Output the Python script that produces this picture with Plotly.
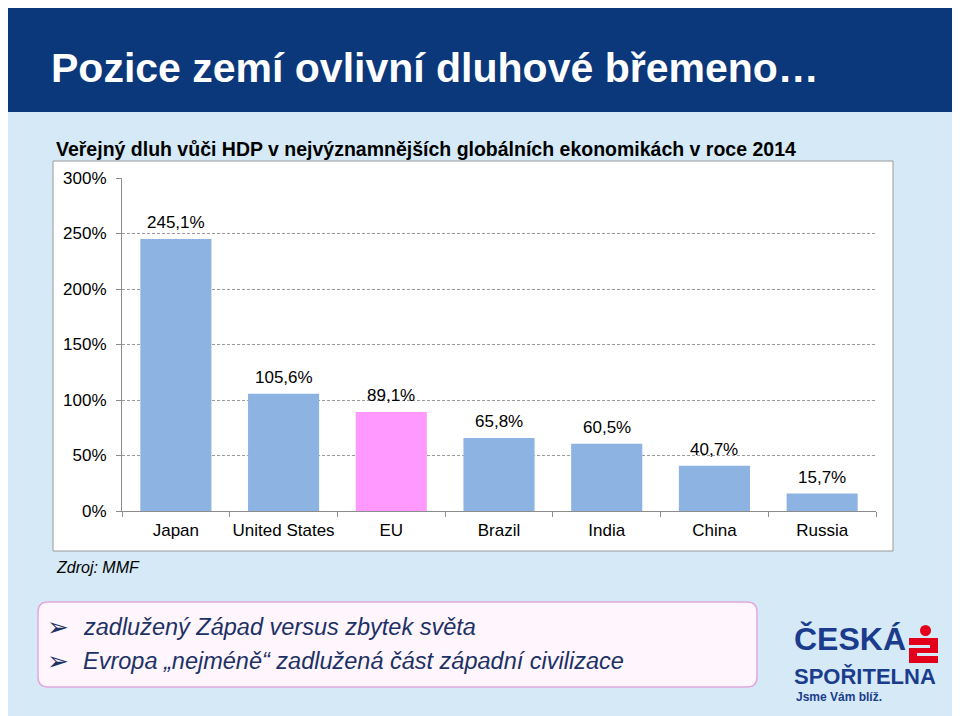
import plotly.graph_objects as go

# ---- data ----
categories = ["Japan", "United States", "EU", "Brazil", "India", "China", "Russia"]
debt_pct = [245.1, 105.6, 89.1, 65.8, 60.5, 40.7, 15.7]
y_ticks = [0, 50, 100, 150, 200, 250, 300]
y_tick_labels = ["0%", "50%", "100%", "150%", "200%", "250%", "300%"]
highlight = "EU"

# ---- geometry helpers (screen pixel -> paper) ----
SW, SH = 960, 716          # window
OFF = 8                    # page body margin
L, R, T, B = 122, 876, 178, 511


def px(x):
    return (x - L) / (R - L)


def py(y):
    return (B - y) / (B - T)


BLUE = "#8DB3E2"
PINK = "#FF99FF"
NAVY = "#0B377B"
TEXTNAVY = "#1C3264"
LOGO = "#1B3C8C"
BG = "#D5EAF6"
FONT = "Liberation Sans, Arial, sans-serif"

colors = [PINK if c == highlight else BLUE for c in categories]

fig = go.Figure()
fig.add_trace(go.Bar(
    x=categories, y=debt_pct, marker=dict(color=colors, line=dict(width=0)),
    hoverinfo="skip",
))

shapes = [
    dict(type="rect", xref="paper", yref="paper", x0=px(3), x1=px(957), y0=py(720), y1=py(112),
         fillcolor=BG, line=dict(width=0), layer="below"),
    dict(type="rect", xref="paper", yref="paper", x0=px(3), x1=px(957), y0=py(112), y1=py(2),
         fillcolor=NAVY, line=dict(width=0), layer="below"),
    dict(type="rect", xref="paper", yref="paper", x0=px(53), x1=px(893), y0=py(551), y1=py(161),
         fillcolor="white", line=dict(color="#9A9A9A", width=1), layer="below"),
]

bx0, bx1, by0, by1, r = 38, 757, 602, 687, 10
path = (f"M {px(bx0 + r)},{py(by0)} L {px(bx1 - r)},{py(by0)} "
        f"Q {px(bx1)},{py(by0)} {px(bx1)},{py(by0 + r)} L {px(bx1)},{py(by1 - r)} "
        f"Q {px(bx1)},{py(by1)} {px(bx1 - r)},{py(by1)} L {px(bx0 + r)},{py(by1)} "
        f"Q {px(bx0)},{py(by1)} {px(bx0)},{py(by1 - r)} L {px(bx0)},{py(by0 + r)} "
        f"Q {px(bx0)},{py(by0)} {px(bx0 + r)},{py(by0)} Z")
shapes.append(dict(type="path", xref="paper", yref="paper", path=path,
                   fillcolor="#FFF5FC", line=dict(color="#E3A9DC", width=1.5), layer="below"))

RED = "#E2001A"
shapes += [
    dict(type="circle", xref="paper", yref="paper", x0=px(920), x1=px(931), y0=py(636), y1=py(625),
         fillcolor=RED, line=dict(width=0), layer="above"),
    dict(type="rect", xref="paper", yref="paper", x0=px(909), x1=px(938), y0=py(663), y1=py(638),
         fillcolor=RED, line=dict(width=0), layer="above"),
    dict(type="rect", xref="paper", yref="paper", x0=px(909), x1=px(930), y0=py(648), y1=py(645),
         fillcolor=BG, line=dict(width=0), layer="above"),
    dict(type="rect", xref="paper", yref="paper", x0=px(917), x1=px(938), y0=py(656), y1=py(653),
         fillcolor=BG, line=dict(width=0), layer="above"),
]

annotations = [
    dict(text="Pozice zemí ovlivní dluhové břemeno…", x=px(49), y=py(68), xref="paper", yref="paper",
         xanchor="left", yanchor="middle", showarrow=False,
         font=dict(family=FONT, size=41, color="white", weight="bold")),
    dict(text="Veřejný dluh vůči HDP v nejvýznamnějších globálních ekonomikách v roce 2014",
         x=px(54), y=py(149), xref="paper", yref="paper", xanchor="left", yanchor="middle",
         showarrow=False, font=dict(family=FONT, size=19.5, color="black", weight="bold")),
    dict(text="Zdroj: MMF", x=px(54), y=py(567), xref="paper", yref="paper", xanchor="left",
         yanchor="middle", showarrow=False, font=dict(family=FONT, size=16, color="black", style="italic")),
]

bullets = ["zadlužený Západ versus zbytek světa",
           "Evropa „nejméně“ zadlužená část západní civilizace"]
for i, t in enumerate(bullets):
    yy = 627 + i * 34
    annotations.append(dict(text="➢", x=px(45), y=py(yy), xref="paper", yref="paper", xanchor="left",
                            yanchor="middle", showarrow=False,
                            font=dict(family="DejaVu Sans", size=26, color=TEXTNAVY)))
    annotations.append(dict(text=t, x=px(81), y=py(yy), xref="paper", yref="paper", xanchor="left",
                            yanchor="middle", showarrow=False,
                            font=dict(family=FONT, size=23.5, color=TEXTNAVY, style="italic")))

annotations += [
    dict(text="ČESKÁ", x=px(792), y=py(659), xref="paper", yref="paper", xanchor="left",
         yanchor="bottom", showarrow=False, font=dict(family=FONT, size=32, color=LOGO, weight="bold")),
    dict(text="SPOŘITELNA", x=px(792), y=py(691), xref="paper", yref="paper", xanchor="left",
         yanchor="bottom", showarrow=False, font=dict(family=FONT, size=22, color=LOGO, weight="bold")),
    dict(text="Jsme Vám blíž.", x=px(794), y=py(697), xref="paper", yref="paper", xanchor="left",
         yanchor="middle", showarrow=False, font=dict(family=FONT, size=12, color=LOGO, weight="bold")),
]

for c, v in zip(categories, debt_pct):
    annotations.append(dict(x=c, y=v, xref="x", yref="y", text=f"{v:.1f}".replace(".", ",") + "%",
                            showarrow=False, yanchor="bottom", yshift=5,
                            font=dict(family=FONT, size=17, color="black")))

fig.update_layout(
    width=SW - OFF, height=SH - OFF,
    margin=dict(l=L - OFF, r=SW - R, t=T - OFF, b=SH - B, pad=0),
    paper_bgcolor="white", plot_bgcolor="rgba(0,0,0,0)",
    showlegend=False, bargap=0.34,
    shapes=shapes, annotations=annotations,
    font=dict(family=FONT, size=17, color="black"),
)
fig.update_xaxes(
    showline=True, linecolor="#8C8C8C", linewidth=1, ticks="outside", tickson="boundaries",
    ticklen=5, tickcolor="#8C8C8C", showgrid=False, ticklabelstandoff=4, tickangle=0,
    tickfont=dict(family=FONT, size=17, color="black"),
)
fig.update_yaxes(
    range=[0, 300], tickvals=y_ticks, ticktext=y_tick_labels,
    showline=True, linecolor="#8C8C8C", linewidth=1, ticks="outside", ticklen=5, tickcolor="#8C8C8C",
    showgrid=True, gridcolor="#9A9A9A", griddash="3px,2px", gridwidth=1, zeroline=False,
    ticklabelstandoff=6, tickfont=dict(family=FONT, size=17, color="black"),
)

fig.write_html("out.html")
